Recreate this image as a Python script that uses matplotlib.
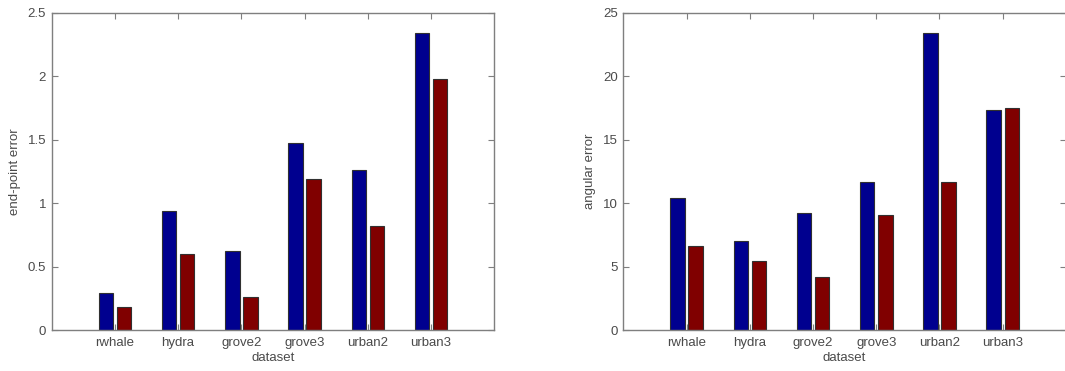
import matplotlib
matplotlib.use("Agg")
import matplotlib.pyplot as plt
import numpy as np

datasets = ["rwhale", "hydra", "grove2", "grove3", "urban2", "urban3"]
epe_blue = [0.29, 0.94, 0.62, 1.47, 1.26, 2.34]
epe_red = [0.18, 0.60, 0.26, 1.19, 0.82, 1.98]
ang_blue = [10.4, 7.0, 9.2, 11.7, 23.4, 17.3]
ang_red = [6.6, 5.4, 4.2, 9.1, 11.7, 17.5]

plt.rcParams['font.family'] = ['Liberation Sans', 'DejaVu Sans']
TXT = '#4a4a4a'
SPINE = '#7f7f7f'
FS = 9.5

fig = plt.figure(figsize=(10.65, 3.71), dpi=100)
ax1 = fig.add_axes([0.0485, 0.1105, 0.4156, 0.855])
ax2 = fig.add_axes([0.5853, 0.1105, 0.4156, 0.855])


def draw(ax, b, r, ylim, yticks, ylabel):
    x = np.arange(1, len(datasets) + 1)
    off = 0.143
    w = 0.229
    ax.bar(x - off, b, w, color='#00008f', edgecolor='#303030', linewidth=0.8)
    ax.bar(x + off, r, w, color='#800000', edgecolor='#303030', linewidth=0.8)
    ax.set_xlim(0, 7)
    ax.set_ylim(*ylim)
    ax.set_xticks(x)
    ax.set_xticklabels(datasets)
    ax.set_yticks(yticks)
    ax.set_yticklabels([('%g' % t) for t in yticks])
    ax.tick_params(direction='in', top=True, right=True, length=4,
                   width=0.8, color=SPINE, labelsize=FS, labelcolor=TXT)
    ax.tick_params(axis='x', pad=5)
    ax.tick_params(axis='y', pad=4)
    for s in ax.spines.values():
        s.set_color(SPINE)
        s.set_linewidth(1.0)
    ax.set_xlabel('dataset', fontsize=FS, color=TXT, labelpad=2)
    ax.set_ylabel(ylabel, fontsize=FS, color=TXT, labelpad=5)


draw(ax1, epe_blue, epe_red, (0, 2.5), [0, 0.5, 1, 1.5, 2, 2.5], 'end-point error')
draw(ax2, ang_blue, ang_red, (0, 25), [0, 5, 10, 15, 20, 25], 'angular error')

fig.savefig('out.png', dpi=100)
